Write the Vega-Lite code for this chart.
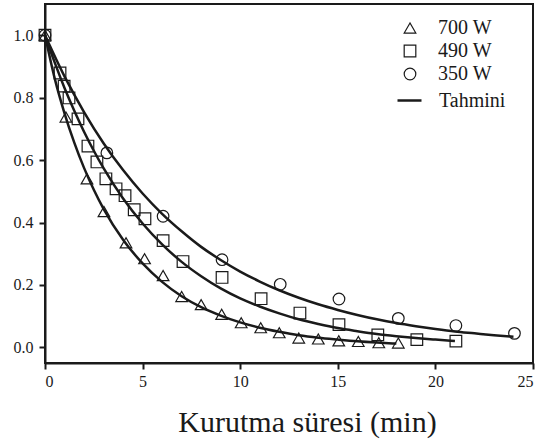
{
  "$schema": "https://vega.github.io/schema/vega-lite/v6.json",
  "width": 488,
  "height": 359,
  "padding": {"left": 5, "top": 4, "right": 10, "bottom": 5},
  "background": "white",
  "config": {
    "view": {"stroke": "#1a1a1a", "strokeWidth": 2},
    "axis": {
      "grid": false,
      "labelFont": "Liberation Serif",
      "labelFontSize": 16,
      "labelColor": "#1a1a1a",
      "titleFont": "Liberation Serif",
      "titleColor": "#1a1a1a",
      "domainColor": "#1a1a1a",
      "domainWidth": 2,
      "tickColor": "#1a1a1a",
      "tickWidth": 2,
      "tickSize": 6
    },
    "legend": {
      "labelFont": "Liberation Serif",
      "labelFontSize": 20,
      "labelColor": "#1a1a1a"
    }
  },
  "datasets": {
    "obs": [
      {"series": "700 W", "t": 0, "mr": 1.0},
      {"series": "700 W", "t": 1.07, "mr": 0.738},
      {"series": "700 W", "t": 2.15, "mr": 0.54},
      {"series": "700 W", "t": 3.02, "mr": 0.435},
      {"series": "700 W", "t": 4.15, "mr": 0.335},
      {"series": "700 W", "t": 5.1, "mr": 0.284},
      {"series": "700 W", "t": 6.05, "mr": 0.23},
      {"series": "700 W", "t": 7.0, "mr": 0.163},
      {"series": "700 W", "t": 8.0, "mr": 0.137},
      {"series": "700 W", "t": 9.05, "mr": 0.106},
      {"series": "700 W", "t": 10.05, "mr": 0.079},
      {"series": "700 W", "t": 11.05, "mr": 0.063},
      {"series": "700 W", "t": 12.0, "mr": 0.047},
      {"series": "700 W", "t": 13.0, "mr": 0.03},
      {"series": "700 W", "t": 14.0, "mr": 0.027},
      {"series": "700 W", "t": 15.05, "mr": 0.021},
      {"series": "700 W", "t": 16.05, "mr": 0.019},
      {"series": "700 W", "t": 17.1, "mr": 0.015},
      {"series": "700 W", "t": 18.1, "mr": 0.014},
      {"series": "490 W", "t": 0, "mr": 1.0},
      {"series": "490 W", "t": 0.77, "mr": 0.879},
      {"series": "490 W", "t": 0.98, "mr": 0.837},
      {"series": "490 W", "t": 1.23, "mr": 0.799},
      {"series": "490 W", "t": 1.69, "mr": 0.732},
      {"series": "490 W", "t": 2.2, "mr": 0.645},
      {"series": "490 W", "t": 2.66, "mr": 0.594},
      {"series": "490 W", "t": 3.12, "mr": 0.54},
      {"series": "490 W", "t": 3.64, "mr": 0.508},
      {"series": "490 W", "t": 4.1, "mr": 0.486},
      {"series": "490 W", "t": 4.57, "mr": 0.441},
      {"series": "490 W", "t": 5.12, "mr": 0.412},
      {"series": "490 W", "t": 6.05, "mr": 0.342},
      {"series": "490 W", "t": 7.07, "mr": 0.275},
      {"series": "490 W", "t": 9.07, "mr": 0.224},
      {"series": "490 W", "t": 11.07, "mr": 0.156},
      {"series": "490 W", "t": 13.06, "mr": 0.11},
      {"series": "490 W", "t": 15.06, "mr": 0.073},
      {"series": "490 W", "t": 17.05, "mr": 0.04},
      {"series": "490 W", "t": 19.05, "mr": 0.025},
      {"series": "490 W", "t": 21.05, "mr": 0.02},
      {"series": "350 W", "t": 0, "mr": 1.0},
      {"series": "350 W", "t": 3.17, "mr": 0.623},
      {"series": "350 W", "t": 6.05, "mr": 0.42},
      {"series": "350 W", "t": 9.07, "mr": 0.281},
      {"series": "350 W", "t": 12.05, "mr": 0.202},
      {"series": "350 W", "t": 15.06, "mr": 0.155},
      {"series": "350 W", "t": 18.1, "mr": 0.093},
      {"series": "350 W", "t": 21.05, "mr": 0.07},
      {"series": "350 W", "t": 24.05, "mr": 0.045}
    ],
    "fit": [
      {"series": "700 W", "t": 0, "mr": 1.0},
      {"series": "700 W", "t": 0.5, "mr": 0.861},
      {"series": "700 W", "t": 1, "mr": 0.75},
      {"series": "700 W", "t": 1.5, "mr": 0.656},
      {"series": "700 W", "t": 2, "mr": 0.575},
      {"series": "700 W", "t": 2.5, "mr": 0.505},
      {"series": "700 W", "t": 3, "mr": 0.444},
      {"series": "700 W", "t": 4, "mr": 0.345},
      {"series": "700 W", "t": 5, "mr": 0.269},
      {"series": "700 W", "t": 6, "mr": 0.21},
      {"series": "700 W", "t": 7, "mr": 0.164},
      {"series": "700 W", "t": 8, "mr": 0.129},
      {"series": "700 W", "t": 9, "mr": 0.102},
      {"series": "700 W", "t": 10, "mr": 0.08},
      {"series": "700 W", "t": 11, "mr": 0.063},
      {"series": "700 W", "t": 12, "mr": 0.05},
      {"series": "700 W", "t": 13, "mr": 0.039},
      {"series": "700 W", "t": 14, "mr": 0.031},
      {"series": "700 W", "t": 15, "mr": 0.025},
      {"series": "700 W", "t": 16, "mr": 0.0196},
      {"series": "700 W", "t": 17, "mr": 0.0155},
      {"series": "700 W", "t": 18, "mr": 0.0123},
      {"series": "490 W", "t": 0, "mr": 1.0},
      {"series": "490 W", "t": 0.5, "mr": 0.912},
      {"series": "490 W", "t": 1, "mr": 0.831},
      {"series": "490 W", "t": 1.5, "mr": 0.758},
      {"series": "490 W", "t": 2, "mr": 0.691},
      {"series": "490 W", "t": 2.5, "mr": 0.63},
      {"series": "490 W", "t": 3, "mr": 0.574},
      {"series": "490 W", "t": 4, "mr": 0.477},
      {"series": "490 W", "t": 5, "mr": 0.397},
      {"series": "490 W", "t": 6, "mr": 0.33},
      {"series": "490 W", "t": 7, "mr": 0.274},
      {"series": "490 W", "t": 8, "mr": 0.228},
      {"series": "490 W", "t": 9, "mr": 0.189},
      {"series": "490 W", "t": 10, "mr": 0.157},
      {"series": "490 W", "t": 11, "mr": 0.131},
      {"series": "490 W", "t": 12, "mr": 0.109},
      {"series": "490 W", "t": 13, "mr": 0.09},
      {"series": "490 W", "t": 14, "mr": 0.075},
      {"series": "490 W", "t": 15, "mr": 0.062},
      {"series": "490 W", "t": 16, "mr": 0.052},
      {"series": "490 W", "t": 17, "mr": 0.043},
      {"series": "490 W", "t": 18, "mr": 0.036},
      {"series": "490 W", "t": 19, "mr": 0.03},
      {"series": "490 W", "t": 20, "mr": 0.025},
      {"series": "490 W", "t": 21, "mr": 0.0205},
      {"series": "350 W", "t": 0, "mr": 1.0},
      {"series": "350 W", "t": 1, "mr": 0.868},
      {"series": "350 W", "t": 2, "mr": 0.754},
      {"series": "350 W", "t": 3, "mr": 0.654},
      {"series": "350 W", "t": 4, "mr": 0.568},
      {"series": "350 W", "t": 5, "mr": 0.493},
      {"series": "350 W", "t": 6, "mr": 0.428},
      {"series": "350 W", "t": 7, "mr": 0.372},
      {"series": "350 W", "t": 8, "mr": 0.322},
      {"series": "350 W", "t": 9, "mr": 0.28},
      {"series": "350 W", "t": 10, "mr": 0.243},
      {"series": "350 W", "t": 11, "mr": 0.211},
      {"series": "350 W", "t": 12, "mr": 0.183},
      {"series": "350 W", "t": 13, "mr": 0.159},
      {"series": "350 W", "t": 14, "mr": 0.138},
      {"series": "350 W", "t": 15, "mr": 0.12},
      {"series": "350 W", "t": 16, "mr": 0.104},
      {"series": "350 W", "t": 17, "mr": 0.09},
      {"series": "350 W", "t": 18, "mr": 0.078},
      {"series": "350 W", "t": 19, "mr": 0.068},
      {"series": "350 W", "t": 20, "mr": 0.059},
      {"series": "350 W", "t": 21, "mr": 0.051},
      {"series": "350 W", "t": 22, "mr": 0.045},
      {"series": "350 W", "t": 23, "mr": 0.039},
      {"series": "350 W", "t": 24, "mr": 0.034}
    ]
  },
  "layer": [
    {
      "data": {"name": "fit"},
      "mark": {"type": "line", "strokeWidth": 2.5, "interpolate": "monotone"},
      "encoding": {
        "x": {"field": "t", "type": "quantitative"},
        "y": {"field": "mr", "type": "quantitative"},
        "detail": {"field": "series"},
        "color": {
          "datum": "Tahmini",
          "type": "nominal",
          "scale": {"domain": ["Tahmini"], "range": ["#1a1a1a"]},
          "legend": {
            "title": null,
            "orient": "none",
            "legendX": 351,
            "legendY": 83,
            "labelFont": "Liberation Serif",
            "labelFontSize": 20,
            "symbolType": "stroke",
            "symbolSize": 576,
            "symbolStrokeWidth": 2.5,
            "labelOffset": 16
          }
        }
      }
    },
    {
      "data": {"name": "obs"},
      "mark": {"type": "point", "filled": false, "color": "#1a1a1a", "opacity": 1, "size": 135, "strokeWidth": 1.2},
      "encoding": {
        "x": {
          "field": "t", "type": "quantitative",
          "scale": {"domain": [0, 25], "nice": false},
          "axis": {"values": [0, 5, 10, 15, 20, 25], "title": "Kurutma süresi (min)", "titleFont": "Liberation Serif", "labelFont": "Liberation Serif", "titleFontSize": 30, "titleFontWeight": "normal", "titlePadding": 18, "labelPadding": 4, "titleX": 262, "titleAlign": "center"}
        },
        "y": {
          "field": "mr", "type": "quantitative",
          "scale": {"domain": [-0.05, 1.1], "nice": false, "zero": false},
          "axis": {"values": [0, 0.2, 0.4, 0.6, 0.8, 1.0], "format": ".1f", "title": null, "labelFont": "Liberation Serif", "minExtent": 40, "maxExtent": 40, "labelPadding": 6}
        },
        "shape": {
          "field": "series", "type": "nominal",
          "scale": {"domain": ["700 W", "490 W", "350 W"], "range": ["triangle-up", "square", "circle"]},
          "legend": {
            "title": null,
            "orient": "none",
            "legendX": 355,
            "legendY": 14,
            "labelFont": "Liberation Serif",
            "labelFontSize": 20,
            "symbolSize": 135,
            "symbolStrokeColor": "#1a1a1a",
            "symbolFillColor": "transparent",
            "symbolStrokeWidth": 1.2,
            "labelOffset": 18,
            "rowPadding": 3
          }
        }
      }
    }
  ]
}
